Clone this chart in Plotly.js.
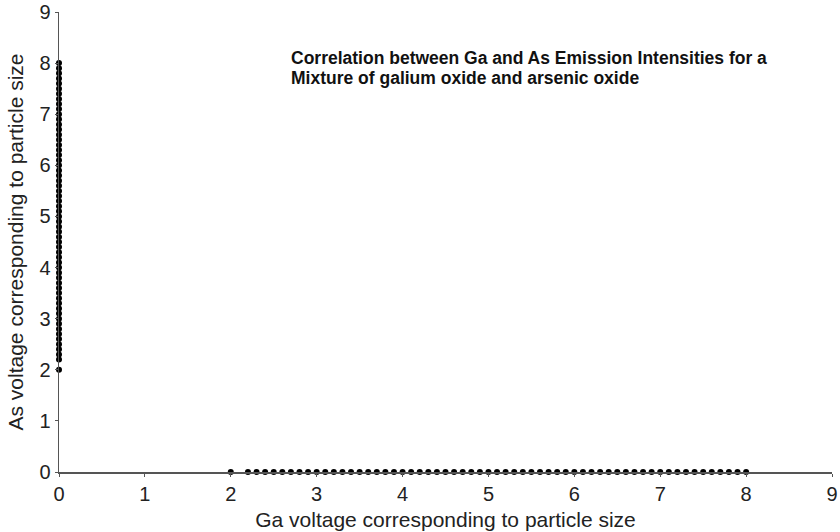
<!DOCTYPE html>
<html>
<head>
<meta charset="utf-8">
<script src="https://cdn.plot.ly/plotly-3.0.1.min.js"></script>
<style>html,body{margin:0;padding:0;background:#fff;}#chart{width:840px;height:532px;}</style>
</head>
<body>
<div id="chart"></div>
<script>
// As voltage series along the y axis (Ga = 0)
const asSeriesX = [0,0,0,0,0,0,0,0,0,0,0,0,0,0,0,0,0,0,0,0,0,0,0,0,0,0,0,0,0,0,0,0,0,0,0,0,0,0,0,0,0,0,0,0,0,0,0,0,0,0,0,0,0,0,0,0,0,0,0,0];
const asSeriesY = [2.0,2.2,2.3,2.4,2.5,2.6,2.7,2.8,2.9,3.0,3.1,3.2,3.3,3.4,3.5,3.6,3.7,3.8,3.9,4.0,4.1,4.2,4.3,4.4,4.5,4.6,4.7,4.8,4.9,5.0,5.1,5.2,5.3,5.4,5.5,5.6,5.7,5.8,5.9,6.0,6.1,6.2,6.3,6.4,6.5,6.6,6.7,6.8,6.9,7.0,7.1,7.2,7.3,7.4,7.5,7.6,7.7,7.8,7.9,8.0];
// Ga voltage series along the x axis (As = 0)
const gaSeriesX = [2.0,2.2,2.3,2.4,2.5,2.6,2.7,2.8,2.9,3.0,3.1,3.2,3.3,3.4,3.5,3.6,3.7,3.8,3.9,4.0,4.1,4.2,4.3,4.4,4.5,4.6,4.7,4.8,4.9,5.0,5.1,5.2,5.3,5.4,5.5,5.6,5.7,5.8,5.9,6.0,6.1,6.2,6.3,6.4,6.5,6.6,6.7,6.8,6.9,7.0,7.1,7.2,7.3,7.4,7.5,7.6,7.7,7.8,7.9,8.0];
const gaSeriesY = [0,0,0,0,0,0,0,0,0,0,0,0,0,0,0,0,0,0,0,0,0,0,0,0,0,0,0,0,0,0,0,0,0,0,0,0,0,0,0,0,0,0,0,0,0,0,0,0,0,0,0,0,0,0,0,0,0,0,0,0];
const tickVals = [0,1,2,3,4,5,6,7,8,9];
const tickText = ["0","1","2","3","4","5","6","7","8","9"];
const titleLines = ["Correlation between Ga and As Emission Intensities for a", "Mixture of galium oxide and arsenic oxide"];
const xTitle = "Ga voltage corresponding to particle size";
const yTitle = "As voltage corresponding to particle size";

const FONT = 'Liberation Sans, Arial, sans-serif';
const marker = {color: '#000', size: 6, symbol: 'circle'};
const traces = [
  {x: asSeriesX, y: asSeriesY, type: 'scatter', mode: 'markers', marker: marker, cliponaxis: false, hoverinfo: 'none'},
  {x: gaSeriesX, y: gaSeriesY, type: 'scatter', mode: 'markers', marker: marker, cliponaxis: false, hoverinfo: 'none'}
];
const axisCommon = {
  range: [0, 9], tickvals: tickVals, ticktext: tickText,
  showgrid: false, zeroline: false, showline: true, linecolor: '#555', linewidth: 1.5,
  ticks: 'outside', ticklen: 3, tickcolor: '#555',
  ticklabeloverflow: 'allow',
  tickfont: {family: FONT, size: 20, color: '#222'}
};
const layout = {
  width: 840, height: 532,
  margin: {l: 59, r: 8, t: 12, b: 60},
  paper_bgcolor: '#fff', plot_bgcolor: '#fff',
  showlegend: false,
  xaxis: Object.assign({}, axisCommon, {
    title: {text: xTitle, font: {family: FONT, size: 21, color: '#222'}, standoff: 9}
  }),
  yaxis: Object.assign({}, axisCommon, {
    title: {text: yTitle, font: {family: FONT, size: 21, color: '#222'}, standoff: 10}
  }),
  annotations: titleLines.map(function (t, i) {
    return {
      xref: 'paper', yref: 'paper', x: 0.297, y: i === 0 ? 0.9 : 0.857,
      xanchor: 'left', yanchor: 'middle', align: 'left', showarrow: false,
      text: '<b>' + t + '</b>',
      font: {family: FONT, size: 17.5, color: '#111'}
    };
  })
};
Plotly.newPlot('chart', traces, layout, {staticPlot: true, displayModeBar: false});
</script>
</body>
</html>
